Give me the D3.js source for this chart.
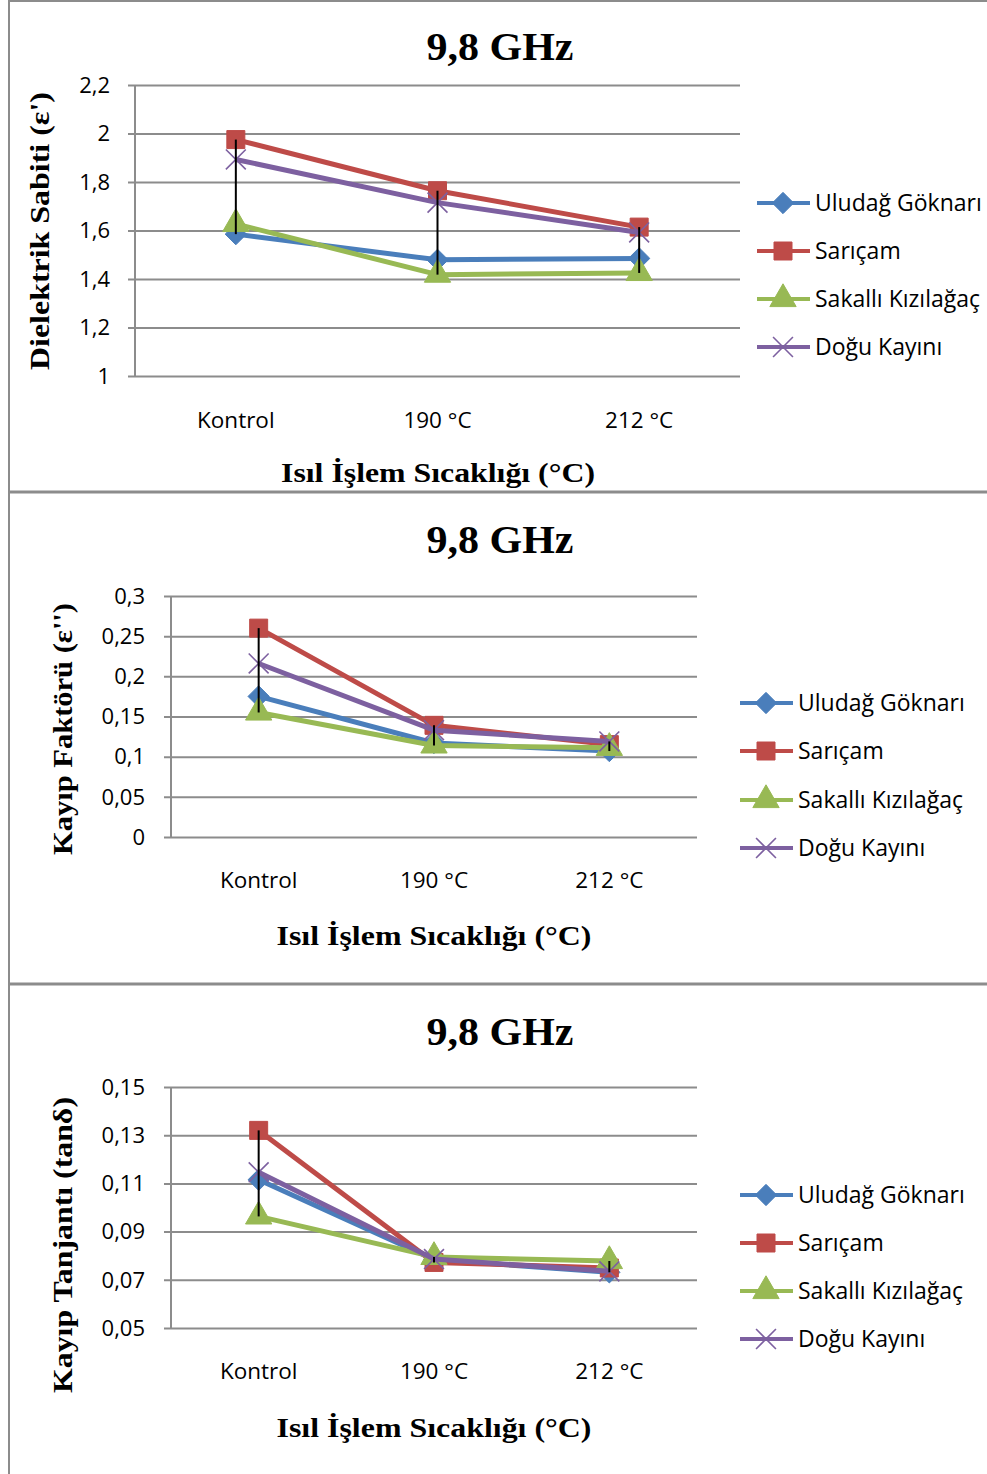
<!DOCTYPE html>
<html><head><meta charset="utf-8">
<script src="https://cdn.jsdelivr.net/npm/d3@7"></script>
<style>body{margin:0;background:#fff}svg{display:block}</style>
</head><body>
<script>
// ---- data ----
const categories = ["Kontrol", "190 °C", "212 °C"];
const seriesNames = ["Uludağ Göknarı", "Sarıçam", "Sakallı Kızılağaç", "Doğu Kayını"];
const seriesColors = ["#4a7ebb", "#be4b48", "#98b954", "#7d60a0"];
const seriesMarkers = ["diamond", "square", "triangle", "x"];

const dielectricValues = [
  [1.585, 1.479, 1.485],
  [1.975, 1.764, 1.614],
  [1.627, 1.418, 1.425],
  [1.893, 1.715, 1.592]
];
const lossFactorValues = [
  [0.175, 0.117, 0.107],
  [0.260, 0.139, 0.115],
  [0.155, 0.114, 0.111],
  [0.216, 0.133, 0.119]
];
const lossTangentValues = [
  [0.1115, 0.0784, 0.0731],
  [0.1320, 0.0772, 0.0749],
  [0.0963, 0.0795, 0.0778],
  [0.1146, 0.0786, 0.0735]
];
const dielectricTicks = [1, 1.2, 1.4, 1.6, 1.8, 2, 2.2];
const lossFactorTicks = [0, 0.05, 0.1, 0.15, 0.2, 0.25, 0.3];
const lossTangentTicks = [0.05, 0.07, 0.09, 0.11, 0.13, 0.15];

const chartTitle = "9,8 GHz";
const xAxisTitle = "Isıl İşlem Sıcaklığı (°C)";
const yTitles = ["Dielektrik Sabiti (ε')", "Kayıp Faktörü (ε'')", "Kayıp Tanjantı (tanδ)"];

// ---- layout ----
const W = 987, H = 1474;
const svg = d3.select("body").append("svg").attr("width", W).attr("height", H);
const fmt = d3.formatLocale({decimal: ",", thousands: ".", grouping: [3], currency: ["", ""]}).format("~g");

const panels = [
  {values: dielectricValues, ticks: dielectricTicks, domain: [1, 2.2], x0: 135, x1: 740, yTop: 85, yBot: 376,
   tickRight: 110, xLabelY: 428, yTitleX: 40, yTitleY: 231, xTitleX: 438, xTitleY: 482, titleY: 60,
   legX: 757, legY: [203, 251, 299, 347], yTitle: yTitles[0], yTitleLen: 278, xTitleLen: 314},
  {values: lossFactorValues, ticks: lossFactorTicks, domain: [0, 0.3], x0: 171, x1: 697, yTop: 596, yBot: 837,
   tickRight: 145, xLabelY: 888, yTitleX: 63, yTitleY: 729, xTitleX: 434, xTitleY: 945, titleY: 553,
   legX: 740, legY: [703, 751, 800, 848], yTitle: yTitles[1], yTitleLen: 252, xTitleLen: 315},
  {values: lossTangentValues, ticks: lossTangentTicks, domain: [0.05, 0.15], x0: 171, x1: 697, yTop: 1087, yBot: 1328,
   tickRight: 145, xLabelY: 1379, yTitleX: 63, yTitleY: 1245, xTitleX: 434, xTitleY: 1437, titleY: 1045,
   legX: 740, legY: [1195, 1243, 1291, 1339], yTitle: yTitles[2], yTitleLen: 296, xTitleLen: 315}
];

// frame lines
const frame = svg.append("g").attr("stroke", "#8c8c8c").attr("fill", "none");
frame.append("line").attr("x1", 9).attr("x2", 9).attr("y1", 0).attr("y2", H).attr("stroke-width", 2);
frame.append("line").attr("x1", 8).attr("x2", W).attr("y1", 1).attr("y2", 1).attr("stroke-width", 2);
[492, 984].forEach(y => frame.append("line").attr("x1", 8).attr("x2", W).attr("y1", y).attr("y2", y).attr("stroke-width", 3));

function markerPath(type, size) {
  const s = size;
  if (type === "diamond") return d3.symbol(d3.symbolDiamond2, s * s * 1.0)();
  if (type === "square") return d3.symbol(d3.symbolSquare, s * s)();
  if (type === "triangle") return d3.symbol(d3.symbolTriangle, s * s * 0.75)();
  return d3.symbol(d3.symbolX, s * s * 0.9)();
}
function drawMarker(g, type, color, x, y) {
  if (type === "x") {
    g.append("path").attr("d", markerPath(type, 17)).attr("transform", `translate(${x},${y})`)
      .attr("fill", "none").attr("stroke", color).attr("stroke-width", 1.6);
  } else {
    const size = type === "diamond" ? 17 : type === "square" ? 18 : 20;
    g.append("path").attr("d", markerPath(type, size)).attr("transform", `translate(${x},${y})`)
      .attr("fill", color).attr("stroke", color).attr("stroke-width", 1);
  }
}

panels.forEach(p => {
  const g = svg.append("g");
  const x = d3.scaleBand().domain(categories).range([p.x0, p.x1]);
  const y = d3.scaleLinear().domain(p.domain).range([p.yBot, p.yTop]);

  // gridlines
  const yAxis = d3.axisLeft(y).tickValues(p.ticks).tickSize(-(p.x1 - p.x0)).tickSizeOuter(0).tickFormat(fmt).tickPadding(0);
  const ga = g.append("g").attr("transform", `translate(${p.x0},0)`).call(yAxis);
  ga.select(".domain").remove();
  ga.selectAll(".tick line").attr("stroke", "#8c8c8c").attr("stroke-width", 2).attr("x1", -7);
  ga.selectAll(".tick text").remove();
  g.append("line").attr("x1", p.x0).attr("x2", p.x0).attr("y1", p.yTop).attr("y2", p.yBot)
    .attr("stroke", "#8c8c8c").attr("stroke-width", 2);

  // y tick labels
  g.selectAll(".ylab").data(p.ticks).join("text")
    .attr("x", p.tickRight).attr("y", d => y(d)).attr("dy", "0.35em").attr("text-anchor", "end")
    .attr("font-family", "Open Sans").attr("font-size", 22).attr("fill", "#000").text(d => fmt(d));

  // x labels
  g.selectAll(".xlab").data(categories).join("text")
    .attr("x", d => x(d) + x.bandwidth() / 2).attr("y", p.xLabelY).attr("text-anchor", "middle")
    .attr("font-family", "Open Sans").attr("font-size", 22.5).attr("fill", "#000").text(d => d);

  // series lines
  const line = d3.line().x((d, i) => x(categories[i]) + x.bandwidth() / 2).y(d => y(d));
  p.values.forEach((vals, si) => {
    g.append("path").attr("d", line(vals)).attr("fill", "none").attr("stroke", seriesColors[si])
      .attr("stroke-width", 5).attr("stroke-linejoin", "round");
    vals.forEach((v, i) => drawMarker(g, seriesMarkers[si], seriesColors[si], x(categories[i]) + x.bandwidth() / 2, y(v)));
  });

  // high-low lines
  categories.forEach((c, i) => {
    const col = p.values.map(s => s[i]);
    g.append("line").attr("x1", x(c) + x.bandwidth() / 2).attr("x2", x(c) + x.bandwidth() / 2)
      .attr("y1", y(d3.max(col))).attr("y2", y(d3.min(col))).attr("stroke", "#000").attr("stroke-width", 2);
  });

  // titles
  g.append("text").attr("x", 500).attr("y", p.titleY).attr("text-anchor", "middle")
    .attr("font-family", "Liberation Serif").attr("font-weight", "bold").attr("font-size", 39)
    .attr("textLength", 147).attr("lengthAdjust", "spacingAndGlyphs").text(chartTitle);
  g.append("text").attr("x", p.xTitleX).attr("y", p.xTitleY).attr("text-anchor", "middle")
    .attr("font-family", "Liberation Serif").attr("font-weight", "bold").attr("font-size", 28)
    .attr("textLength", p.xTitleLen).attr("lengthAdjust", "spacingAndGlyphs").text(xAxisTitle);
  g.append("text").attr("transform", `translate(${p.yTitleX + 9},${p.yTitleY}) rotate(-90)`).attr("text-anchor", "middle")
    .attr("font-family", "Liberation Serif").attr("font-weight", "bold").attr("font-size", 28)
    .attr("textLength", p.yTitleLen).attr("lengthAdjust", "spacingAndGlyphs").text(p.yTitle);

  // legend
  seriesNames.forEach((n, si) => {
    const ly = p.legY[si];
    g.append("line").attr("x1", p.legX).attr("x2", p.legX + 53).attr("y1", ly).attr("y2", ly)
      .attr("stroke", seriesColors[si]).attr("stroke-width", 4);
    drawMarker(g, seriesMarkers[si], seriesColors[si], p.legX + 26, ly);
    g.append("text").attr("x", p.legX + 58).attr("y", ly).attr("dy", "0.35em")
      .attr("font-family", "Open Sans").attr("font-size", 23).attr("fill", "#000").text(n);
  });
});
</script>
</body></html>
